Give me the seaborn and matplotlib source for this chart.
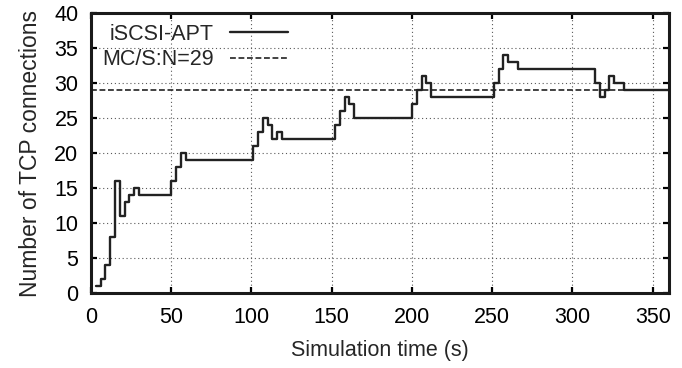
import matplotlib
matplotlib.use('Agg')
import matplotlib.pyplot as plt
import seaborn as sns
import pandas as pd

# step data (time in s, number of connections)
times = [3, 6, 9, 12, 15, 18, 21, 24, 27, 30,
         50, 53, 56, 59,
         101, 104, 107, 110, 113, 116, 119,
         152, 155, 158, 161, 164,
         200, 203, 206, 209, 212,
         251, 254, 257, 260, 266,
         314, 317, 320, 323, 326, 332, 360]
conns = [1, 2, 4, 8, 16, 11, 13, 14, 15, 14,
         16, 18, 20, 19,
         21, 23, 25, 24, 22, 23, 22,
         24, 26, 28, 27, 25,
         27, 29, 31, 30, 28,
         30, 32, 34, 33, 32,
         30, 28, 29, 31, 30, 29, 29]
mcs_n = 29
x_ticks = [0, 50, 100, 150, 200, 250, 300, 350]
y_ticks = [0, 5, 10, 15, 20, 25, 30, 35, 40]

df = pd.DataFrame({'time': times, 'conns': conns})

sns.set_style('ticks')
plt.rcParams['font.family'] = ['Liberation Sans', 'DejaVu Sans']

fig = plt.figure(figsize=(6.82, 3.68), dpi=100)
ax = fig.add_axes([0.1334, 0.2045, 0.8472, 0.7594])

sns.lineplot(data=df, x='time', y='conns', ax=ax, color='#222222', lw=1.7,
             drawstyle='steps-post', label='iSCSI-APT')
ax.axhline(mcs_n, color='#222222', lw=1.2, ls=(0, (3.5, 1.6)), label='MC/S:N=29')

ax.set_xlim(0, 360)
ax.set_ylim(0, 40)
ax.set_xticks(x_ticks)
ax.set_yticks(y_ticks)
ax.grid(True, color='0.35', lw=0.8, ls=(0, (1, 2.5)))
ax.tick_params(direction='in', length=4.5, width=1.6, labelsize=15.5,
               top=True, right=True, colors='black')
ax.tick_params(axis='x', pad=10)
ax.tick_params(axis='y', pad=9)
for sp in ax.spines.values():
    sp.set_linewidth(2.2)
    sp.set_color('#1a1a1a')

ax.set_xlabel('Simulation time (s)', fontsize=15.5, labelpad=9)
ax.set_ylabel('Number of TCP connections', fontsize=16.5, labelpad=9)

ax.legend(loc='upper right', bbox_to_anchor=(0.341, 0.962), frameon=False,
          markerfirst=False, fontsize=15.5, handlelength=2.7,
          handletextpad=0.75, labelspacing=0.2, borderaxespad=0,
          borderpad=0)

fig.savefig('out.png', dpi=100)
